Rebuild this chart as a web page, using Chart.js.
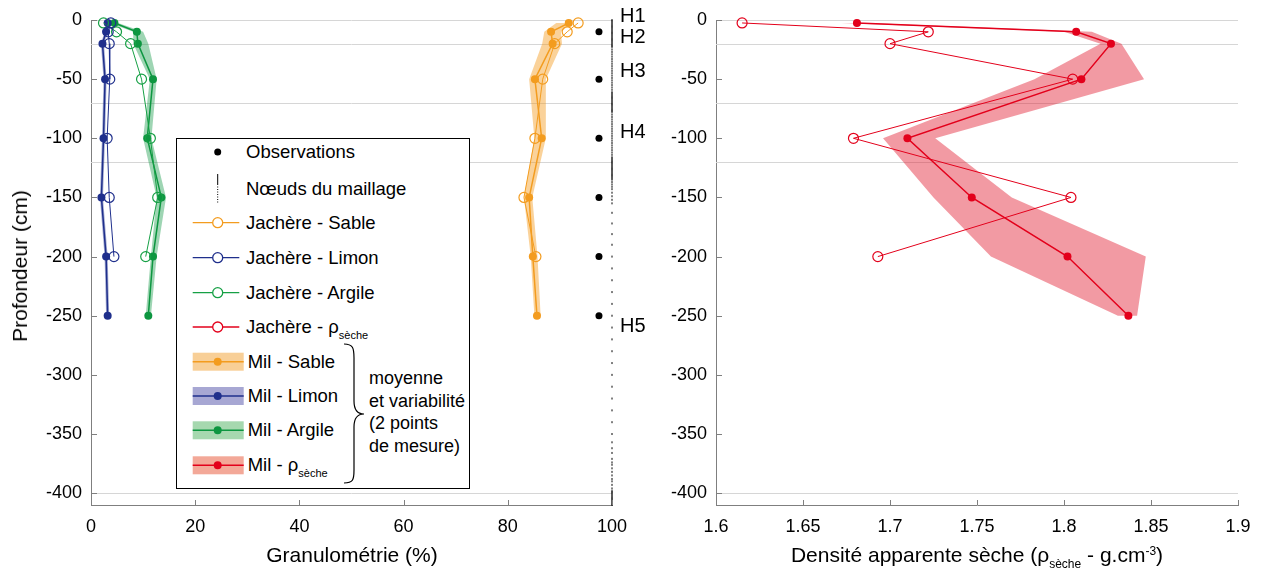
<!DOCTYPE html>
<html>
<head>
<meta charset="utf-8">
<script src="https://cdn.jsdelivr.net/npm/chart.js@4"></script>
<style>
  body { margin: 0; background: #fff; overflow: hidden; font-family: "Liberation Sans", Arial, sans-serif; color: #000; }
  #wrap { position: relative; width: 1262px; height: 573px; }
  canvas { position: absolute; left: 0; top: 0; }
  .t { position: absolute; font-size: 18.5px; white-space: nowrap; line-height: 22px; }
  .ttl { font-size: 21px; }
  sub { font-size: 11px; vertical-align: -6px; line-height: 0; }
  sup { font-size: 11px; vertical-align: 7px; line-height: 0; }
  .ttl sub, .ttl sup { font-size: 12px; }
  #legend { position: absolute; left: 176px; top: 138px; width: 294px; height: 351px; border: 1px solid #000; background: #fff; z-index: 5; box-sizing: border-box; }
  #legend svg { position: absolute; left: 0; top: 0; }
</style>
</head>
<body>
<div id="wrap">
  <canvas id="granulo" width="1262" height="573"></canvas>
  <canvas id="densite" width="1262" height="573"></canvas>

  <div class="t ttl" style="left:20px;top:266px;transform:translate(-50%,-50%) rotate(-90deg);">Profondeur (cm)</div>
  <div class="t ttl" style="left:352px;top:555px;transform:translate(-50%,-50%);">Granulométrie (%)</div>
  <div class="t ttl" style="left:977px;top:555px;transform:translate(-50%,-50%);">Densité apparente sèche (ρ<sub>sèche</sub> - g.cm<sup>-3</sup>)</div>

  <div id="legend">
    <svg width="294" height="351">
      <circle cx="40.7" cy="13" r="3.5" fill="#000"/>
      <line x1="40.7" y1="35" x2="40.7" y2="45" stroke="#000" stroke-width="1"/>
      <line x1="40.7" y1="45" x2="40.7" y2="64" stroke="#000" stroke-width="1" stroke-dasharray="1,1.5"/>

      <line x1="15.7" y1="83.7" x2="62.3" y2="83.7" stroke="#f39c1f" stroke-width="1.3"/>
      <circle cx="40.7" cy="83.7" r="5" fill="#fff" stroke="#f39c1f" stroke-width="1.3"/>
      <line x1="15.7" y1="118.7" x2="62.3" y2="118.7" stroke="#1f2f8c" stroke-width="1.3"/>
      <circle cx="40.7" cy="118.7" r="5" fill="#fff" stroke="#1f2f8c" stroke-width="1.3"/>
      <line x1="15.7" y1="153.7" x2="62.3" y2="153.7" stroke="#16a045" stroke-width="1.3"/>
      <circle cx="40.7" cy="153.7" r="5" fill="#fff" stroke="#16a045" stroke-width="1.3"/>
      <line x1="15.7" y1="188" x2="62.3" y2="188" stroke="#e3001b" stroke-width="1.3"/>
      <circle cx="40.7" cy="188" r="5" fill="#fff" stroke="#e3001b" stroke-width="1.3"/>

      <rect x="15.7" y="213.7" width="51" height="18" fill="#f8cf97"/>
      <line x1="15.7" y1="222.7" x2="66.7" y2="222.7" stroke="#f39c1f" stroke-width="1.5"/>
      <circle cx="40.7" cy="222.7" r="4" fill="#f39c1f"/>
      <rect x="15.7" y="248" width="51" height="18" fill="#a7a7d3"/>
      <line x1="15.7" y1="257" x2="66.7" y2="257" stroke="#1f2f8c" stroke-width="1.5"/>
      <circle cx="40.7" cy="257" r="4" fill="#1f2f8c"/>
      <rect x="15.7" y="282.3" width="51" height="18" fill="#a6d8af"/>
      <line x1="15.7" y1="291.3" x2="66.7" y2="291.3" stroke="#0d9640" stroke-width="1.5"/>
      <circle cx="40.7" cy="291.3" r="4" fill="#0d9640"/>
      <rect x="15.7" y="317.3" width="51" height="18" fill="#f3a898"/>
      <line x1="15.7" y1="326.3" x2="66.7" y2="326.3" stroke="#e3001b" stroke-width="1.5"/>
      <circle cx="40.7" cy="326.3" r="4" fill="#e3001b"/>

      <path d="M167,205 C176,205 177,209 177,219 L177,262 C177,271 180,275 187,275 C180,275 177,279 177,288 L177,331 C177,341 176,344 167,344" fill="none" stroke="#000" stroke-width="1.2"/>
    </svg>
    <div class="t" style="left:69px;top:2px;">Observations</div>
    <div class="t" style="left:69px;top:39px;">Nœuds du maillage</div>
    <div class="t" style="left:69px;top:72.7px;">Jachère - Sable</div>
    <div class="t" style="left:69px;top:107.7px;">Jachère - Limon</div>
    <div class="t" style="left:69px;top:142.7px;">Jachère - Argile</div>
    <div class="t" style="left:69px;top:177px;">Jachère - ρ<sub>sèche</sub></div>
    <div class="t" style="left:70.7px;top:211.7px;">Mil - Sable</div>
    <div class="t" style="left:70.7px;top:246px;">Mil - Limon</div>
    <div class="t" style="left:70.7px;top:280.3px;">Mil - Argile</div>
    <div class="t" style="left:70.7px;top:315.3px;">Mil - ρ<sub>sèche</sub></div>
    <div class="t" style="left:192px;top:228px;line-height:22.7px;font-size:18px;">moyenne<br>et variabilité<br>(2 points<br>de mesure)</div>
  </div>
</div>

<script>
// ========================
//    data
// ========================

const milDepths = [-2.5, -10, -20, -50, -100, -150, -200, -250];
const jachDepths = [-2.5, -10, -20, -50, -100, -150, -200];

// granulometry (%)
const milSable = [91.7, 88.3, 88.6, 85.2, 86.5, 84.1, 84.8, 85.6];
const milSableMin = [89.3, 87.0, 86.6, 84.1, 85.1, 83.1, 84.4, 85.1];
const milSableMax = [92.3, 90.2, 90.4, 87.3, 87.3, 84.7, 85.7, 86.3];
const jachSable = [93.5, 91.4, 89.0, 86.7, 85.2, 83.1, 85.4];

const milLimon = [3.2, 2.9, 2.2, 2.7, 2.4, 2.0, 2.9, 3.2];
const milLimonMin = [2.9, 2.6, 1.9, 2.4, 2.1, 1.7, 2.6, 2.9];
const milLimonMax = [3.5, 3.2, 2.5, 3.0, 2.7, 2.3, 3.2, 3.5];
const jachLimon = [3.8, 3.3, 3.5, 3.6, 3.1, 3.5, 4.4];

const milArgile = [4.5, 8.8, 9.0, 11.9, 10.8, 13.5, 11.9, 11.0];
const milArgileMin = [3.6, 8.1, 8.1, 11.3, 10.0, 12.6, 11.5, 10.5];
const milArgileMax = [5.2, 10.0, 11.0, 12.6, 11.6, 14.4, 12.6, 11.5];
const jachArgile = [2.4, 4.9, 7.6, 9.7, 11.4, 12.8, 10.5];

// dry bulk density (g.cm-3)
const milRho = [1.681, 1.807, 1.827, 1.810, 1.710, 1.747, 1.802, 1.837];
const milRhoMin = [1.672, 1.800, 1.821, 1.783, 1.696, 1.725, 1.758, 1.831];
const milRhoMax = [1.688, 1.816, 1.833, 1.846, 1.726, 1.770, 1.847, 1.842];
const jachRho = [1.615, 1.722, 1.700, 1.805, 1.679, 1.804, 1.693];

// observations and mesh nodes (drawn at the right edge of the left panel)
const obsX = 97.5;
const obsDepths = [-10, -50, -100, -150, -200, -250];
const meshX = 100;
const meshNodes = [
  0, -1, -2, -3, -4, -5, -6, -7, -8, -9, -10, -11, -12, -13, -14, -15, -16, -17, -18, -19, -20, -21, -22, -23,
  -25, -27, -29, -31, -33, -35, -37, -39, -41, -43, -45, -47, -49, -51, -53, -55, -57, -59, -61,
  -62, -63, -64, -65, -66, -67, -68, -69, -70, -71, -72, -73, -74, -75, -76, -77, -78,
  -80, -82, -84, -86, -88, -90, -92, -94, -96, -98, -100, -102, -104, -106, -108, -110, -112, -114, -116,
  -117, -118, -119, -120, -121, -122, -123, -124, -125, -126, -127, -128, -129, -130, -131, -132, -133, -134, -135,
  -137, -139, -141, -143, -146, -149, -152,
  -155, -163, -172, -181, -190, -200, -210, -220, -230, -240, -250, -260, -270, -280, -290, -300, -310, -320,
  -330, -340, -350, -357, -362, -366, -371, -374, -376, -379, -382, -385, -388, -390, -393, -396, -398, -399,
  -400, -401, -402, -403, -404, -405, -406, -407, -408, -409, -410
];

// horizons
const horizonDepths = [0, -20, -70, -120, -400];
const horizonNames = ['H1', 'H2', 'H3', 'H4', 'H5'];
const horizonLabelDepths = [3, -14.4, -43.5, -95.5, -259];

// axes
const depthTicks = [0, -50, -100, -150, -200, -250, -300, -350, -400];
const granuloTicks = [0, 20, 40, 60, 80, 100];
const densiteTicks = [1.6, 1.65, 1.7, 1.75, 1.8, 1.85, 1.9];

// colours
const cSable = '#f39c1f', cLimon = '#1f2f8c', cArgile = '#0d9640', cArgileJ = '#16a045', cRho = '#e3001b';

const pts = (xs, ds) => xs.map((v, i) => ({ x: v, y: ds[i] }));

Chart.defaults.font.family = '"Liberation Sans", Arial, sans-serif';
Chart.defaults.font.size = 18;
Chart.defaults.color = '#000';

// =========================
// shared drawing plugin
// =========================
const decor = {
  id: 'decor',
  beforeDatasetsDraw(chart, args, opts) {
    const { ctx, chartArea: a, scales: { x, y } } = chart;
    ctx.save();
    ctx.strokeStyle = '#d6d6d6';
    ctx.lineWidth = 1;
    horizonDepths.forEach(d => {
      const py = Math.round(y.getPixelForValue(d)) + 0.5;
      ctx.beginPath(); ctx.moveTo(a.left, py); ctx.lineTo(a.right, py); ctx.stroke();
    });
    (opts.bands || []).forEach(b => {
      ctx.fillStyle = b.color;
      ctx.beginPath();
      b.lo.forEach((v, i) => {
        const px = x.getPixelForValue(v), py = y.getPixelForValue(milDepths[i]);
        i ? ctx.lineTo(px, py) : ctx.moveTo(px, py);
      });
      for (let i = b.hi.length - 1; i >= 0; i--) {
        ctx.lineTo(x.getPixelForValue(b.hi[i]), y.getPixelForValue(milDepths[i]));
      }
      ctx.closePath();
      ctx.fill();
    });
    ctx.restore();
  },
  afterDraw(chart, args, opts) {
    const { ctx, chartArea: a, scales: { x, y } } = chart;
    ctx.save();
    ctx.strokeStyle = '#7f7f7f';
    ctx.lineWidth = 1;
    // ticks point into the plot
    y.ticks.forEach(t => {
      const py = Math.round(y.getPixelForValue(t.value)) + 0.5;
      ctx.beginPath(); ctx.moveTo(a.left, py); ctx.lineTo(a.left + 6, py); ctx.stroke();
    });
    x.ticks.forEach(t => {
      const px = Math.round(x.getPixelForValue(t.value)) + 0.5;
      ctx.beginPath(); ctx.moveTo(px, a.bottom); ctx.lineTo(px, a.bottom - 5); ctx.stroke();
    });
    if (opts.horizonLabels) {
      ctx.fillStyle = '#000';
      ctx.font = '20px "Liberation Sans", Arial, sans-serif';
      ctx.textBaseline = 'middle';
      horizonNames.forEach((h, i) => ctx.fillText(h, a.right + 8, y.getPixelForValue(horizonLabelDepths[i])));
    }
    ctx.restore();
  }
};

function depthAxis(width) {
  return {
    type: 'linear', min: -410, max: 0,
    afterBuildTicks: s => { s.ticks = depthTicks.map(v => ({ value: v })); },
    afterFit: s => { s.width = width; },
    grid: { drawOnChartArea: false, drawTicks: false },
    border: { color: '#7f7f7f' },
    ticks: { padding: 9, color: '#000' }
  };
}

function valueAxis(min, max, ticks, fmt) {
  return {
    type: 'linear', min: min, max: max,
    afterBuildTicks: s => { s.ticks = ticks.map(v => ({ value: v })); },
    afterFit: s => { s.height = 50; },
    grid: { drawOnChartArea: false, drawTicks: false },
    border: { color: '#7f7f7f' },
    ticks: { padding: 11, color: '#000', maxRotation: 0, callback: fmt }
  };
}

function jach(data, color) {
  return { data, showLine: true, borderColor: color, borderWidth: 1, pointRadius: 5, pointBorderWidth: 1.2,
    pointBackgroundColor: 'rgba(255,255,255,0)', pointBorderColor: color, clip: false };
}
function mil(data, color) {
  return { data, showLine: true, borderColor: color, borderWidth: 1.5, pointRadius: 4, pointBorderWidth: 0,
    pointBackgroundColor: color, pointBorderColor: color, clip: false };
}

// GRANULOMETRY PANEL
new Chart(document.getElementById('granulo'), {
  type: 'scatter',
  data: {
    datasets: [
      jach(pts(jachSable, jachDepths), cSable),
      jach(pts(jachLimon, jachDepths), cLimon),
      jach(pts(jachArgile, jachDepths), cArgileJ),
      mil(pts(milSable, milDepths), cSable),
      mil(pts(milLimon, milDepths), cLimon),
      mil(pts(milArgile, milDepths), cArgile),
      { data: obsDepths.map(d => ({ x: obsX, y: d })), pointRadius: 3.5, pointBackgroundColor: '#000', pointBorderWidth: 0, clip: false },
      { data: meshNodes.map(d => ({ x: meshX, y: d })), pointStyle: 'line', rotation: 90, pointRadius: 1, pointBorderWidth: 1, pointBorderColor: '#000', clip: false }
    ]
  },
  options: {
    responsive: false,
    animation: false,
    events: [],
    layout: { padding: { left: 21, right: 650, top: 20, bottom: 18 } },
    scales: {
      x: valueAxis(0, 100, granuloTicks, v => String(v)),
      y: depthAxis(70)
    },
    plugins: {
      legend: { display: false },
      tooltip: { enabled: false },
      decor: {
        horizonLabels: true,
        bands: [
          { lo: milSableMin, hi: milSableMax, color: 'rgba(243,156,31,0.45)' },
          { lo: milLimonMin, hi: milLimonMax, color: 'rgba(31,47,140,0.4)' },
          { lo: milArgileMin, hi: milArgileMax, color: 'rgba(13,150,64,0.4)' }
        ]
      }
    }
  },
  plugins: [decor]
});

// DENSITY PANEL
new Chart(document.getElementById('densite'), {
  type: 'scatter',
  data: {
    datasets: [
      jach(pts(jachRho, jachDepths), cRho),
      mil(pts(milRho, milDepths), cRho)
    ]
  },
  options: {
    responsive: false,
    animation: false,
    events: [],
    layout: { padding: { left: 646, right: 24, top: 20, bottom: 18 } },
    scales: {
      x: valueAxis(1.6, 1.9, densiteTicks, v => String(Math.round(v * 100) / 100)),
      y: depthAxis(70)
    },
    plugins: {
      legend: { display: false },
      tooltip: { enabled: false },
      decor: {
        bands: [
          { lo: milRhoMin, hi: milRhoMax, color: 'rgba(227,30,50,0.45)' }
        ]
      }
    }
  },
  plugins: [decor]
});
</script>
</body>
</html>
